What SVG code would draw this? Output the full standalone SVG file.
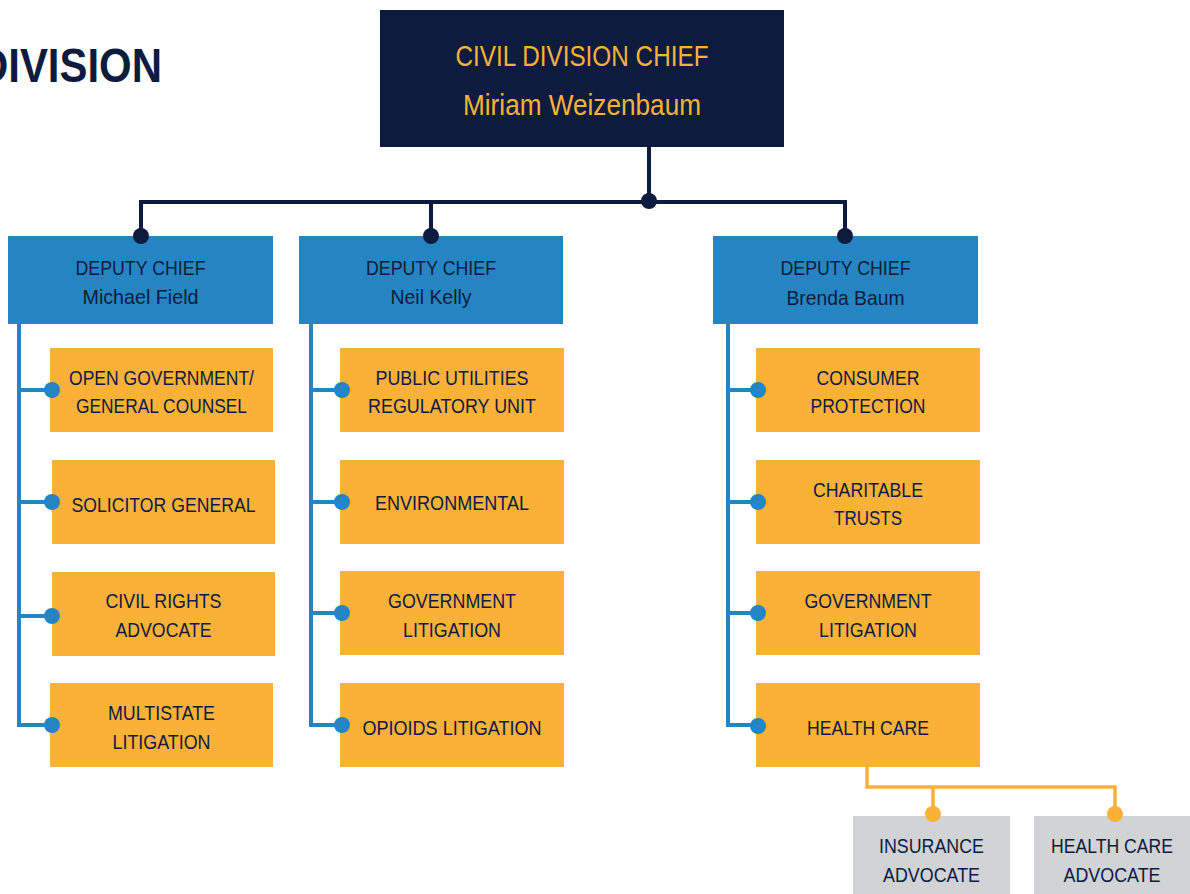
<svg xmlns="http://www.w3.org/2000/svg" width="1190" height="894" viewBox="0 0 1190 894">
<style>
text{font-family:"Liberation Sans",Arial,sans-serif;text-anchor:middle;fill:#0D1B3E;}
.chief{fill:#0D1B3E}
.dep{fill:#2585C3}
.unit{fill:#F9B138}
.sub{fill:#D1D3D5}
.ct{fill:#F9B138;font-size:29px}
.dt{font-size:21px}
.ut{font-size:21px}
.title{font-size:48px;font-weight:bold;text-anchor:start}
.ln{fill:none;stroke-width:4}
.nv{stroke:#0D1B3E}
.bl{stroke:#2585C3}
.yl{stroke:#F9B138;stroke-width:3.5}
</style>
<rect width="1190" height="894" fill="#FFFFFF"/>
<text class="title" x="-22" y="82" textLength="184" lengthAdjust="spacingAndGlyphs">DIVISION</text>

<g id="chief">
  <rect class="chief" x="380" y="10" width="404" height="137"/>
  <text class="ct" x="582" y="66" textLength="253" lengthAdjust="spacingAndGlyphs">CIVIL DIVISION CHIEF</text>
  <text class="ct" x="582" y="115" textLength="238" lengthAdjust="spacingAndGlyphs">Miriam Weizenbaum</text>
</g>

<g id="deputy-field">
  <rect class="dep" x="8" y="236" width="265" height="88"/>
  <text class="dt" x="140.5" y="275" textLength="130" lengthAdjust="spacingAndGlyphs">DEPUTY CHIEF</text>
  <text class="dt" x="140.5" y="304" textLength="116" lengthAdjust="spacingAndGlyphs">Michael Field</text>
</g>
<g id="deputy-kelly">
  <rect class="dep" x="299" y="236" width="264" height="88"/>
  <text class="dt" x="431" y="275" textLength="130" lengthAdjust="spacingAndGlyphs">DEPUTY CHIEF</text>
  <text class="dt" x="431" y="304" textLength="81" lengthAdjust="spacingAndGlyphs">Neil Kelly</text>
</g>
<g id="deputy-baum">
  <rect class="dep" x="713" y="236" width="265" height="88"/>
  <text class="dt" x="845.5" y="275" textLength="130" lengthAdjust="spacingAndGlyphs">DEPUTY CHIEF</text>
  <text class="dt" x="845.5" y="305" textLength="118" lengthAdjust="spacingAndGlyphs">Brenda Baum</text>
</g>

<g id="open-government">
  <rect class="unit" x="50" y="348" width="223" height="84"/>
  <text class="ut" x="161.5" y="385" textLength="185" lengthAdjust="spacingAndGlyphs">OPEN GOVERNMENT/</text>
  <text class="ut" x="161.5" y="413" textLength="171" lengthAdjust="spacingAndGlyphs">GENERAL COUNSEL</text>
</g>
<g id="solicitor-general">
  <rect class="unit" x="52" y="460" width="223" height="84"/>
  <text class="ut" x="163.5" y="512" textLength="184" lengthAdjust="spacingAndGlyphs">SOLICITOR GENERAL</text>
</g>
<g id="civil-rights">
  <rect class="unit" x="52" y="572" width="223" height="84"/>
  <text class="ut" x="163.5" y="608" textLength="116" lengthAdjust="spacingAndGlyphs">CIVIL RIGHTS</text>
  <text class="ut" x="163.5" y="637" textLength="96" lengthAdjust="spacingAndGlyphs">ADVOCATE</text>
</g>
<g id="multistate">
  <rect class="unit" x="50" y="683" width="223" height="84"/>
  <text class="ut" x="161.5" y="720" textLength="107" lengthAdjust="spacingAndGlyphs">MULTISTATE</text>
  <text class="ut" x="161.5" y="749" textLength="98" lengthAdjust="spacingAndGlyphs">LITIGATION</text>
</g>

<g id="public-utilities">
  <rect class="unit" x="340" y="348" width="224" height="84"/>
  <text class="ut" x="452" y="385" textLength="153" lengthAdjust="spacingAndGlyphs">PUBLIC UTILITIES</text>
  <text class="ut" x="452" y="413" textLength="168" lengthAdjust="spacingAndGlyphs">REGULATORY UNIT</text>
</g>
<g id="environmental">
  <rect class="unit" x="340" y="460" width="224" height="84"/>
  <text class="ut" x="452" y="510" textLength="154" lengthAdjust="spacingAndGlyphs">ENVIRONMENTAL</text>
</g>
<g id="government-litigation-kelly">
  <rect class="unit" x="340" y="571" width="224" height="84"/>
  <text class="ut" x="452" y="608" textLength="128" lengthAdjust="spacingAndGlyphs">GOVERNMENT</text>
  <text class="ut" x="452" y="637" textLength="98" lengthAdjust="spacingAndGlyphs">LITIGATION</text>
</g>
<g id="opioids-litigation">
  <rect class="unit" x="340" y="683" width="224" height="84"/>
  <text class="ut" x="452" y="735" textLength="179" lengthAdjust="spacingAndGlyphs">OPIOIDS LITIGATION</text>
</g>

<g id="consumer-protection">
  <rect class="unit" x="756" y="348" width="224" height="84"/>
  <text class="ut" x="868" y="385" textLength="103" lengthAdjust="spacingAndGlyphs">CONSUMER</text>
  <text class="ut" x="868" y="413" textLength="115" lengthAdjust="spacingAndGlyphs">PROTECTION</text>
</g>
<g id="charitable-trusts">
  <rect class="unit" x="756" y="460" width="224" height="84"/>
  <text class="ut" x="868" y="497" textLength="110" lengthAdjust="spacingAndGlyphs">CHARITABLE</text>
  <text class="ut" x="868" y="525" textLength="68" lengthAdjust="spacingAndGlyphs">TRUSTS</text>
</g>
<g id="government-litigation-baum">
  <rect class="unit" x="756" y="571" width="224" height="84"/>
  <text class="ut" x="868" y="608" textLength="127" lengthAdjust="spacingAndGlyphs">GOVERNMENT</text>
  <text class="ut" x="868" y="637" textLength="98" lengthAdjust="spacingAndGlyphs">LITIGATION</text>
</g>
<g id="health-care">
  <rect class="unit" x="756" y="683" width="224" height="84"/>
  <text class="ut" x="868" y="735" textLength="122" lengthAdjust="spacingAndGlyphs">HEALTH CARE</text>
</g>

<g id="insurance-advocate">
  <rect class="sub" x="853" y="816" width="157" height="78"/>
  <text class="ut" x="931.5" y="853" textLength="105" lengthAdjust="spacingAndGlyphs">INSURANCE</text>
  <text class="ut" x="931.5" y="882" textLength="97" lengthAdjust="spacingAndGlyphs">ADVOCATE</text>
</g>
<g id="health-care-advocate">
  <rect class="sub" x="1034" y="816" width="156" height="78"/>
  <text class="ut" x="1112" y="853" textLength="122" lengthAdjust="spacingAndGlyphs">HEALTH CARE</text>
  <text class="ut" x="1112" y="882" textLength="97" lengthAdjust="spacingAndGlyphs">ADVOCATE</text>
</g>

<g id="connectors">
  <path class="ln nv" d="M649 146 V202 M141 236 V202 H845 V236 M431 202 V236"/>
  <circle cx="649" cy="201" r="8" fill="#0D1B3E"/>
  <circle cx="141" cy="236" r="8" fill="#0D1B3E"/>
  <circle cx="431" cy="236" r="8" fill="#0D1B3E"/>
  <circle cx="845" cy="236" r="8" fill="#0D1B3E"/>
  <path class="ln bl" d="M19 323 V725 H51 M19 390 H51 M19 502 H51 M19 616 H51"/>
  <path class="ln bl" d="M311 323 V725 H342 M311 390 H342 M311 502 H342 M311 613 H342"/>
  <path class="ln bl" d="M728 323 V725 H758 M728 390 H758 M728 502 H758 M728 613 H758"/>
  <g fill="#2585C3">
    <circle cx="52" cy="390" r="8"/><circle cx="52" cy="502" r="8"/><circle cx="52" cy="616" r="8"/><circle cx="52" cy="725" r="8"/>
    <circle cx="342" cy="390" r="8"/><circle cx="342" cy="502" r="8"/><circle cx="342" cy="613" r="8"/><circle cx="342" cy="725" r="8"/>
    <circle cx="758" cy="390" r="8"/><circle cx="758" cy="502" r="8"/><circle cx="758" cy="613" r="8"/><circle cx="758" cy="726" r="8"/>
  </g>
  <path class="ln yl" d="M867 767 V787 H1115 V814 M933 787 V814"/>
  <circle cx="933" cy="814" r="8" fill="#F9B138"/>
  <circle cx="1115" cy="814" r="8" fill="#F9B138"/>
</g>
</svg>
